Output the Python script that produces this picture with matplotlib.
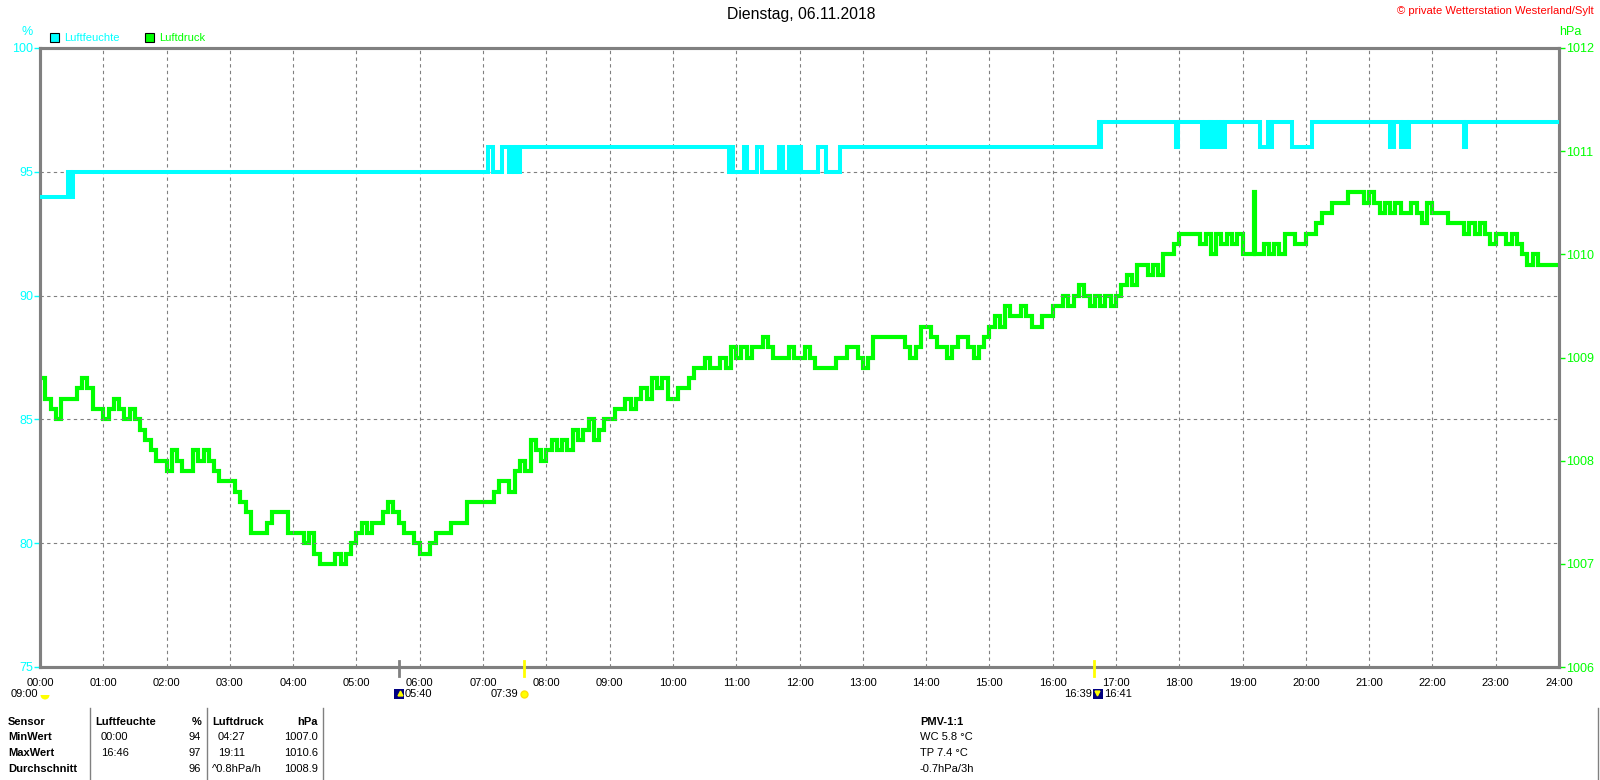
import numpy as np
import matplotlib
matplotlib.use("Agg")
import matplotlib.pyplot as plt
from matplotlib.patches import Rectangle, Wedge
from matplotlib.transforms import blended_transform_factory

plt.rcParams["font.family"] = ["Liberation Sans", "DejaVu Sans"]

# ---- data ----
title = "Dienstag, 06.11.2018"
copyright_text = "\u00a9 private Wetterstation Westerland/Sylt"

hour_ticks = list(range(25))
hour_labels = [f"{h:02d}:00" for h in hour_ticks]
hum_ticks = [75, 80, 85, 90, 95, 100]
hpa_ticks = [1006, 1007, 1008, 1009, 1010, 1011, 1012]

# humidity (%) as change points, minutes after midnight
hum_minutes = [0, 27, 29, 31,
               425, 429, 438, 445, 447, 449, 451, 453, 455,
               653, 655, 657, 667, 670, 680, 684, 701, 704,
               710, 713, 714, 717, 718, 721, 738, 745, 758,
               1004, 1005, 1006, 1077, 1079,
               1102, 1104, 1107, 1109, 1110, 1111, 1115, 1117, 1118, 1120, 1121, 1123,
               1157, 1164, 1167, 1168, 1187, 1206,
               1280, 1284, 1290, 1292, 1296, 1298, 1350, 1352, 1440]
hum_values = [94, 95, 94, 95,
              96, 95, 96, 95, 96, 95, 96, 95, 96,
              95, 96, 95, 96, 95, 96, 95, 96, 95,
              96, 95, 96, 95, 96, 95, 96, 95, 96,
              97, 96, 97, 96, 97,
              96, 97, 96, 97, 96, 97, 96, 97, 96, 97, 96, 97,
              96, 97, 96, 97, 96, 97,
              96, 97, 96, 97, 96, 97, 96, 97, 97]

# air pressure (hPa), one reading every 5 minutes from 00:00 to 24:00
pressure_step_min = 5
pressure_hpa = [
    1008.8, 1008.6, 1008.5, 1008.4, 1008.6, 1008.6, 1008.6, 1008.7, 1008.8, 1008.7, 1008.5, 1008.5,
    1008.4, 1008.5, 1008.6, 1008.5, 1008.4, 1008.5, 1008.4, 1008.3, 1008.2, 1008.1, 1008.0, 1008.0,
    1007.9, 1008.1, 1008.0, 1007.9, 1007.9, 1008.1, 1008.0, 1008.1, 1008.0, 1007.9, 1007.8, 1007.8,
    1007.8, 1007.7, 1007.6, 1007.5, 1007.3, 1007.3, 1007.3, 1007.4, 1007.5, 1007.5, 1007.5, 1007.3,
    1007.3, 1007.3, 1007.2, 1007.3, 1007.1, 1007.0, 1007.0, 1007.0, 1007.1, 1007.0, 1007.1, 1007.2,
    1007.3, 1007.4, 1007.3, 1007.4, 1007.4, 1007.5, 1007.6, 1007.5, 1007.4, 1007.3, 1007.3, 1007.2,
    1007.1, 1007.1, 1007.2, 1007.3, 1007.3, 1007.3, 1007.4, 1007.4, 1007.4, 1007.6, 1007.6, 1007.6,
    1007.6, 1007.6, 1007.7, 1007.8, 1007.8, 1007.7, 1007.9, 1008.0, 1007.9, 1008.2, 1008.1, 1008.0,
    1008.1, 1008.2, 1008.1, 1008.2, 1008.1, 1008.3, 1008.2, 1008.3, 1008.4, 1008.2, 1008.3, 1008.4,
    1008.4, 1008.5, 1008.5, 1008.6, 1008.5, 1008.6, 1008.7, 1008.6, 1008.8, 1008.7, 1008.8, 1008.6,
    1008.6, 1008.7, 1008.7, 1008.8, 1008.9, 1008.9, 1009.0, 1008.9, 1008.9, 1009.0, 1008.9, 1009.1,
    1009.0, 1009.1, 1009.0, 1009.1, 1009.1, 1009.2, 1009.1, 1009.0, 1009.0, 1009.0, 1009.1, 1009.0,
    1009.0, 1009.1, 1009.0, 1008.9, 1008.9, 1008.9, 1008.9, 1009.0, 1009.0, 1009.1, 1009.1, 1009.0,
    1008.9, 1009.0, 1009.2, 1009.2, 1009.2, 1009.2, 1009.2, 1009.2, 1009.1, 1009.0, 1009.1, 1009.3,
    1009.3, 1009.2, 1009.1, 1009.1, 1009.0, 1009.1, 1009.2, 1009.2, 1009.1, 1009.0, 1009.1, 1009.2,
    1009.3, 1009.4, 1009.3, 1009.5, 1009.4, 1009.4, 1009.5, 1009.4, 1009.3, 1009.3, 1009.4, 1009.4,
    1009.5, 1009.5, 1009.6, 1009.5, 1009.6, 1009.7, 1009.6, 1009.5, 1009.6, 1009.5, 1009.6, 1009.5,
    1009.6, 1009.7, 1009.8, 1009.7, 1009.9, 1009.9, 1009.8, 1009.9, 1009.8, 1010.0, 1010.0, 1010.1,
    1010.2, 1010.2, 1010.2, 1010.2, 1010.1, 1010.2, 1010.0, 1010.2, 1010.1, 1010.2, 1010.1, 1010.2,
    1010.0, 1010.0, 1010.0, 1010.0, 1010.1, 1010.0, 1010.1, 1010.0, 1010.2, 1010.2, 1010.1, 1010.1,
    1010.2, 1010.2, 1010.3, 1010.4, 1010.4, 1010.5, 1010.5, 1010.5, 1010.6, 1010.6, 1010.6, 1010.5,
    1010.6, 1010.5, 1010.4, 1010.5, 1010.4, 1010.5, 1010.4, 1010.4, 1010.5, 1010.4, 1010.3, 1010.5,
    1010.4, 1010.4, 1010.4, 1010.3, 1010.3, 1010.3, 1010.2, 1010.3, 1010.2, 1010.3, 1010.2, 1010.1,
    1010.2, 1010.2, 1010.1, 1010.2, 1010.1, 1010.0, 1009.9, 1010.0, 1009.9, 1009.9, 1009.9, 1009.9,
    1009.9,
]
# short spike at 19:11
spike_minutes = [1151]
spike_values = [1010.6]

# sun / moon events on the time axis
event_times = ["05:40", "07:39", "16:39"]
event_colors = ["#808080", "#FFFF00", "#FFFF00"]

# summary table
table_header = ["Sensor", "Luftfeuchte", "%", "Luftdruck", "hPa"]
row_names = ["MinWert", "MaxWert", "Durchschnitt"]
hum_when = ["00:00", "16:46", ""]
hum_stat = ["94", "97", "96"]
press_when = ["04:27", "19:11", "^0.8hPa/h"]
press_stat = ["1007.0", "1010.6", "1008.9"]
pmv_lines = ["PMV-1:1", "WC 5.8 \u00b0C", "TP 7.4 \u00b0C", "-0.7hPa/3h"]

CYAN = "#00FFFF"
GREEN = "#00FF00"
GREY = "#808080"
FS = 8


def to_hours(hhmm):
    h, m = hhmm.split(":")
    return int(h) + int(m) / 60


# ---- figure ----
W, H = 1600, 780
fig = plt.figure(figsize=(W / 100, H / 100), dpi=100)
fig.patch.set_facecolor("white")

# overlay in pixel coordinates for all the loose text
ov = fig.add_axes([0, 0, 1, 1])
ov.set_xlim(0, W)
ov.set_ylim(H, 0)
ov.axis("off")

left, right, top, bottom = 40, 1559, 48, 667
ax = fig.add_axes([left / W, 1 - bottom / H, (right - left) / W, (bottom - top) / H])
ax2 = ax.twinx()

ax.set_xlim(0, 24)
ax.set_ylim(75, 100)
ax2.set_ylim(1006, 1012)

for a in (ax, ax2):
    for s in a.spines.values():
        s.set_color(GREY)
        s.set_linewidth(2.2)

ax.set_xticks(hour_ticks)
ax.set_xticklabels(hour_labels, fontsize=FS)
ax.tick_params(axis="x", length=0, pad=8)
ax.set_yticks(hum_ticks)
ax.tick_params(axis="y", colors=CYAN, labelsize=9, length=4, width=1, pad=1)
ax2.set_yticks(hpa_ticks)
ax2.tick_params(axis="y", colors=GREEN, labelsize=9, length=4, width=1, pad=1)

dash = (0, (3, 3))
for h in hour_ticks[1:-1]:
    ax.axvline(h, color=GREY, lw=0.8, ls=dash, zorder=1)
for v in hum_ticks[1:-1]:
    ax.axhline(v, color=GREY, lw=0.8, ls=dash, zorder=1)

# humidity
ax.plot(np.array(hum_minutes) / 60, hum_values, color=CYAN, lw=2.9,
        drawstyle="steps-post", solid_joinstyle="miter", zorder=4)

# pressure with the short spike merged in
p_min = list(np.arange(len(pressure_hpa)) * pressure_step_min)
p_val = list(pressure_hpa)
for sm, sv in zip(spike_minutes, spike_values):
    back = pressure_hpa[sm // pressure_step_min]
    p_min += [sm, sm + 1]
    p_val += [sv, back]
order = np.argsort(p_min, kind="stable")
p_min = np.array(p_min)[order]
p_val = np.array(p_val)[order]
ax2.plot(p_min / 60, p_val, color=GREEN, lw=3.0, drawstyle="steps-post",
         solid_joinstyle="miter", zorder=4)
ax.set_zorder(ax2.get_zorder() + 1)
ax.patch.set_visible(False)

# event ticks on the time axis
for t, c in zip(event_times, event_colors):
    ax.plot([to_hours(t)] * 2, [-0.015, 0.009], transform=ax.get_xaxis_transform(),
            color=c, lw=2, clip_on=False, zorder=6)

# titles and axis units
ov.text(801, 15, title, ha="center", va="center", fontsize=11.3)
ov.text(1594, 11, copyright_text, ha="right", va="center", fontsize=8.1, color="red")
ov.text(27, 32, "%", ha="center", va="center", fontsize=9, color=CYAN)
ov.text(1570, 32, "hPa", ha="center", va="center", fontsize=9, color=GREEN)

# legend
for x0, col, name in [(50, CYAN, "Luftfeuchte"), (145, GREEN, "Luftdruck")]:
    ov.add_patch(Rectangle((x0, 33), 9, 9, facecolor=col, edgecolor="black", lw=0.8))
    ov.text(x0 + 14, 38, name, va="center", fontsize=FS, color=col)

# sun / moon row below the axis
bt = blended_transform_factory(ax.transData, ov.transData)
yrow = 694
ov.text(38, yrow, "09:00", ha="right", va="center", fontsize=FS)
ov.add_patch(Wedge((45, yrow + 1), 4.5, 0, 180, facecolor="#FFFF00", edgecolor="none"))

t_moon = to_hours(event_times[0])
ax.add_patch(Rectangle((t_moon - 0.08, yrow - 5), 0.16, 10, transform=bt, facecolor="#000080",
                       edgecolor="none", clip_on=False))
ax.plot([t_moon + 0.02], [yrow - 1], marker="^", ms=3.5, color="#FFFF00", transform=bt, clip_on=False)
ax.text(t_moon + 0.09, yrow, "05:40", transform=bt, va="center", fontsize=FS)

t_rise = to_hours(event_times[1])
ax.plot([t_rise], [yrow], marker="o", ms=5, color="#FFFF00", mec="#FFE000",
        transform=bt, clip_on=False)
ax.text(t_rise - 0.09, yrow, event_times[1], transform=bt, ha="right", va="center", fontsize=FS)

t_set = to_hours(event_times[2])
ax.add_patch(Rectangle((t_set - 0.01, yrow - 5), 0.16, 10, transform=bt, facecolor="#000080",
                       edgecolor="none", clip_on=False))
ax.plot([t_set + 0.05], [yrow - 1], marker="v", ms=3.5, color="#FFFF00", transform=bt, clip_on=False)
ax.text(t_set - 0.03, yrow, event_times[2], transform=bt, ha="right", va="center", fontsize=FS)
ax.text(t_set + 0.16, yrow, "16:41", transform=bt, va="center", fontsize=FS)

# summary table
row_y = [722, 737, 753, 769]
for x in (90, 207, 323):
    ov.plot([x, x], [708, 780], color=GREY, lw=1)
ov.plot([1598, 1598], [708, 780], color=GREY, lw=1)

hdr_x = [8, 95, 201, 212, 318]
hdr_ha = ["left", "left", "right", "left", "right"]
for txt, x, ha in zip(table_header, hdr_x, hdr_ha):
    ov.text(x, row_y[0], txt, ha=ha, va="center", fontsize=FS, fontweight="bold")
for i, name in enumerate(row_names):
    y = row_y[i + 1]
    ov.text(8, y, name, va="center", fontsize=FS, fontweight="bold")
    ov.text(101, y, hum_when[i], va="center", fontsize=FS)
    ov.text(201, y, hum_stat[i], ha="right", va="center", fontsize=FS)
    ov.text(212 if press_when[i].startswith("^") else 218, y, press_when[i],
            va="center", fontsize=FS)
    ov.text(318, y, press_stat[i], ha="right", va="center", fontsize=FS)

for i, line in enumerate(pmv_lines):
    ov.text(920, row_y[i], line, va="center", fontsize=FS,
            fontweight="bold" if i == 0 else "normal")

fig.savefig("out.png", dpi=100)
